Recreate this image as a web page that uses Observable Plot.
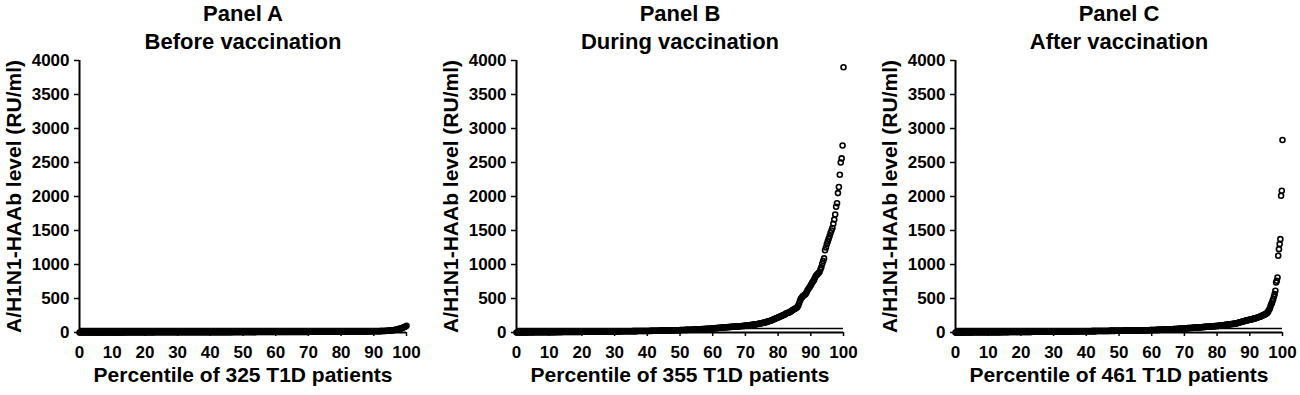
<!DOCTYPE html>
<html><head><meta charset="utf-8">
<script src="https://cdn.jsdelivr.net/npm/d3@7"></script>
<script src="https://cdn.jsdelivr.net/npm/@observablehq/plot@0.6"></script>
<style>
body{margin:0;background:#fff;}
#row{display:flex;width:1300px;height:395px;overflow:hidden;}
#row svg{overflow:visible;}
</style></head><body><div id="row"></div>
<script>
const panelLetters = ["A", "B", "C"];
const panelSubtitles = ["Before vaccination", "During vaccination", "After vaccination"];
const patientCounts = [325, 355, 461];
const xTicks = [0, 10, 20, 30, 40, 50, 60, 70, 80, 90, 100];
const yTicks = [0, 500, 1000, 1500, 2000, 2500, 3000, 3500, 4000];
const yLabel = "A/H1N1-HAAb level (RU/ml)";
const cutoff = 60;

// Sorted antibody levels (RU/ml), one per patient
const valuesA = [
0,0,0,0,0,0,0,0,0,0, 0,0,0,0,0,0,0,0,1,1, 1,1,1,1,1,1,1,1,1,1, 1,1,1,1,1,1,1,1,1,1,
1,1,1,1,1,2,2,2,2,2, 2,2,2,2,2,2,2,2,2,2, 2,2,2,2,2,2,2,2,2,2, 2,2,2,2,2,3,3,3,3,3,
3,3,3,3,3,3,3,3,3,3, 3,3,3,3,3,3,3,3,3,3, 3,3,3,4,4,4,4,4,4,4, 4,4,4,4,4,4,4,4,4,4,
4,4,4,4,4,4,4,4,5,5, 5,5,5,5,5,5,5,5,5,5, 5,5,5,5,5,5,5,5,5,5, 5,5,6,6,6,6,6,6,6,6,
6,6,6,6,6,6,6,6,6,6, 6,6,6,6,6,6,7,7,7,7, 7,7,7,7,7,7,7,7,7,7, 7,7,7,7,7,7,7,8,8,8,
8,8,8,8,8,8,8,8,8,8, 8,8,8,8,9,9,9,9,9,9, 9,9,9,9,9,9,9,9,10,10, 10,10,10,10,10,10,10,10,10,10,
11,11,11,11,11,11,11,11,11,12, 12,12,12,12,12,12,12,12,13,13, 13,13,13,13,13,13,13,14,14,14, 14,14,14,14,14,15,15,15,15,15,
15,15,16,16,16,16,16,17,17,17, 17,17,18,18,18,19,19,19,20,20, 21,21,22,23,24,25,26,27,28,30, 32,34,36,39,42,45,49,53,58,63,
68,74,80,88,98
];
const valuesB = [
0,0,0,0,1,1,1,1,1,1, 1,1,2,2,2,2,2,2,2,2, 3,3,3,3,3,3,3,3,4,4, 4,4,4,4,4,5,5,5,5,5,
5,5,5,6,6,6,6,6,6,6, 7,7,7,7,7,7,7,8,8,8, 8,8,8,8,9,9,9,9,9,9, 10,10,10,10,10,10,11,11,11,11,
11,11,12,12,12,12,12,13,13,13, 13,13,13,14,14,14,14,14,15,15, 15,15,15,15,15,16,16,16,16,16, 17,17,17,17,17,18,18,18,18,18,
18,19,19,19,19,19,20,20,20,20, 20,21,21,21,21,21,22,22,22,22, 22,23,23,23,23,24,24,24,25,25, 25,25,26,26,26,27,27,27,28,28,
28,29,29,29,30,30,30,31,31,31, 32,32,32,33,33,34,34,35,35,36, 36,37,37,38,38,39,39,40,40,41, 41,42,42,43,44,45,45,46,47,48,
48,49,50,51,52,53,53,54,55,56, 57,58,59,60,62,63,64,65,67,68, 69,70,71,72,73,74,76,77,78,79, 80,81,82,83,84,85,86,87,88,89,
90,91,92,93,95,96,97,98,100,101, 103,105,106,108,110,112,114,116,118,120, 122,124,127,130,133,136,139,142,145,148, 152,156,160,164,168,172,178,184,190,196,
202,208,214,220,226,232,238,244,250,256, 262,270,278,285,290,295,300,310,320,330, 338,345,352,360,375,395,430,470,500,515, 535,545,555,565,590,620,640,660,680,705,
730,750,770,800,830,845,860,875,890,925, 960,1010,1050,1090,1210,1250,1300,1340,1380,1420, 1465,1500,1535,1600,1660,1735,1850,1900,2050,2140,
2320,2500,2560,2750,3900
];
const valuesC = [
0,0,0,1,1,1,1,1,1,1, 1,1,1,2,2,2,2,2,2,2, 2,2,2,2,2,3,3,3,3,3, 3,3,3,3,3,3,3,3,4,4,
4,4,4,4,4,4,4,4,4,4, 4,5,5,5,5,5,5,5,5,5, 5,5,5,5,6,6,6,6,6,6, 6,6,6,6,6,6,7,7,7,7,
7,7,7,7,7,7,7,8,8,8, 8,8,8,8,8,8,8,8,9,9, 9,9,9,9,9,9,9,9,10,10, 10,10,10,10,10,10,10,10,11,11,
11,11,11,11,11,11,11,11,12,12, 12,12,12,12,12,12,12,12,13,13, 13,13,13,13,13,14,14,14,14,14, 14,15,15,15,15,15,15,16,16,16,
16,16,16,16,17,17,17,17,17,17, 17,17,17,17,18,18,18,18,18,18, 18,18,18,18,18,19,19,19,19,19, 19,19,20,20,20,20,20,20,21,21,
21,21,21,21,22,22,22,22,22,22, 22,23,23,23,23,23,23,24,24,24, 24,24,24,24,24,25,25,25,25,25, 25,25,26,26,26,26,26,27,27,27,
27,27,28,28,28,28,28,29,29,29, 29,29,30,30,30,30,31,31,31,31, 31,32,32,32,32,33,33,33,33,33, 34,34,34,34,35,35,35,35,36,36,
36,37,37,38,38,38,39,39,40,40, 40,41,41,42,42,43,43,44,44,45, 45,46,46,47,47,48,48,49,50,50, 51,51,52,53,53,54,55,55,56,57,
58,59,60,61,61,62,63,64,64,65, 66,66,67,68,69,69,70,71,72,72, 73,74,75,76,76,77,78,79,80,81, 81,82,83,84,85,85,86,87,88,89,
90,90,91,92,93,94,94,95,96,97, 98,99,100,101,102,104,105,106,108,110, 113,114,115,117,118,119,121,122,124,125, 126,127,129,130,132,134,137,140,143,146,
149,152,155,158,161,164,167,170,173,175, 178,180,183,185,188,190,193,195,198,201, 204,207,210,212,216,220,224,228,232,236, 240,245,250,255,260,264,268,275,285,295,
310,329,350,380,410,430,465,491,530,565, 613,735,760,809,1128,1226,1300,1373,2010,2084,
2830
];
const panelValues = [valuesA, valuesB, valuesC];
const panelWidths = [437, 439, 424];

const font = "Arial, 'Liberation Sans', sans-serif";
const row = document.getElementById("row");

panelValues.forEach((values, k) => {
  const n = values.length;
  const data = values.map((v, i) => ({pct: (i / (n - 1)) * 100, v}));
  const w = panelWidths[k];
  const chart = Plot.plot({
    width: w,
    height: 395,
    marginLeft: 79,
    marginRight: w - 79 - 327,
    marginTop: 60,
    marginBottom: 63,
    style: {fontFamily: font, fontWeight: "bold", fontSize: "17px", color: "#000", background: "#fff"},
    x: {domain: [0, 100]},
    y: {domain: [0, 4000]},
    marks: [
      Plot.axisX({ticks: xTicks, tickSize: 4, tickPadding: 9, label: null, strokeWidth: 1.5, fontSize: 17, fontWeight: "bold", tickFormat: d => String(d)}),
      Plot.axisY({ticks: yTicks, tickSize: 5, tickPadding: 5, label: null, strokeWidth: 1.5, fontSize: 17, fontWeight: "bold", tickFormat: d => String(d)}),
      Plot.ruleY([cutoff], {stroke: "#000", strokeWidth: 1.5}),
      Plot.dot(data, {x: "pct", y: "v", r: 2.5, stroke: "#000", strokeWidth: 1.6, fill: "none"}),
      Plot.ruleX([0], {stroke: "#000", strokeWidth: 2}),
      Plot.ruleY([0], {stroke: "#000", strokeWidth: 2}),
      Plot.text([`Panel ${panelLetters[k]}`], {text: d => d, frameAnchor: "top", textAnchor: "middle", lineAnchor: "middle", dy: -47, fontSize: 22, fontWeight: "bold"}),
      Plot.text([panelSubtitles[k]], {text: d => d, frameAnchor: "top", textAnchor: "middle", lineAnchor: "middle", dy: -18.5, fontSize: 22, fontWeight: "bold"}),
      Plot.text([`Percentile of ${patientCounts[k]} T1D patients`], {text: d => d, frameAnchor: "bottom", textAnchor: "middle", lineAnchor: "middle", dy: 42.5, fontSize: 21, fontWeight: "bold"}),
      Plot.text([yLabel], {text: d => d, frameAnchor: "left", textAnchor: "middle", lineAnchor: "middle", rotate: -90, dx: -65.5, fontSize: 21, fontWeight: "bold"})
    ]
  });
  row.appendChild(chart);
});
</script>
</body></html>
